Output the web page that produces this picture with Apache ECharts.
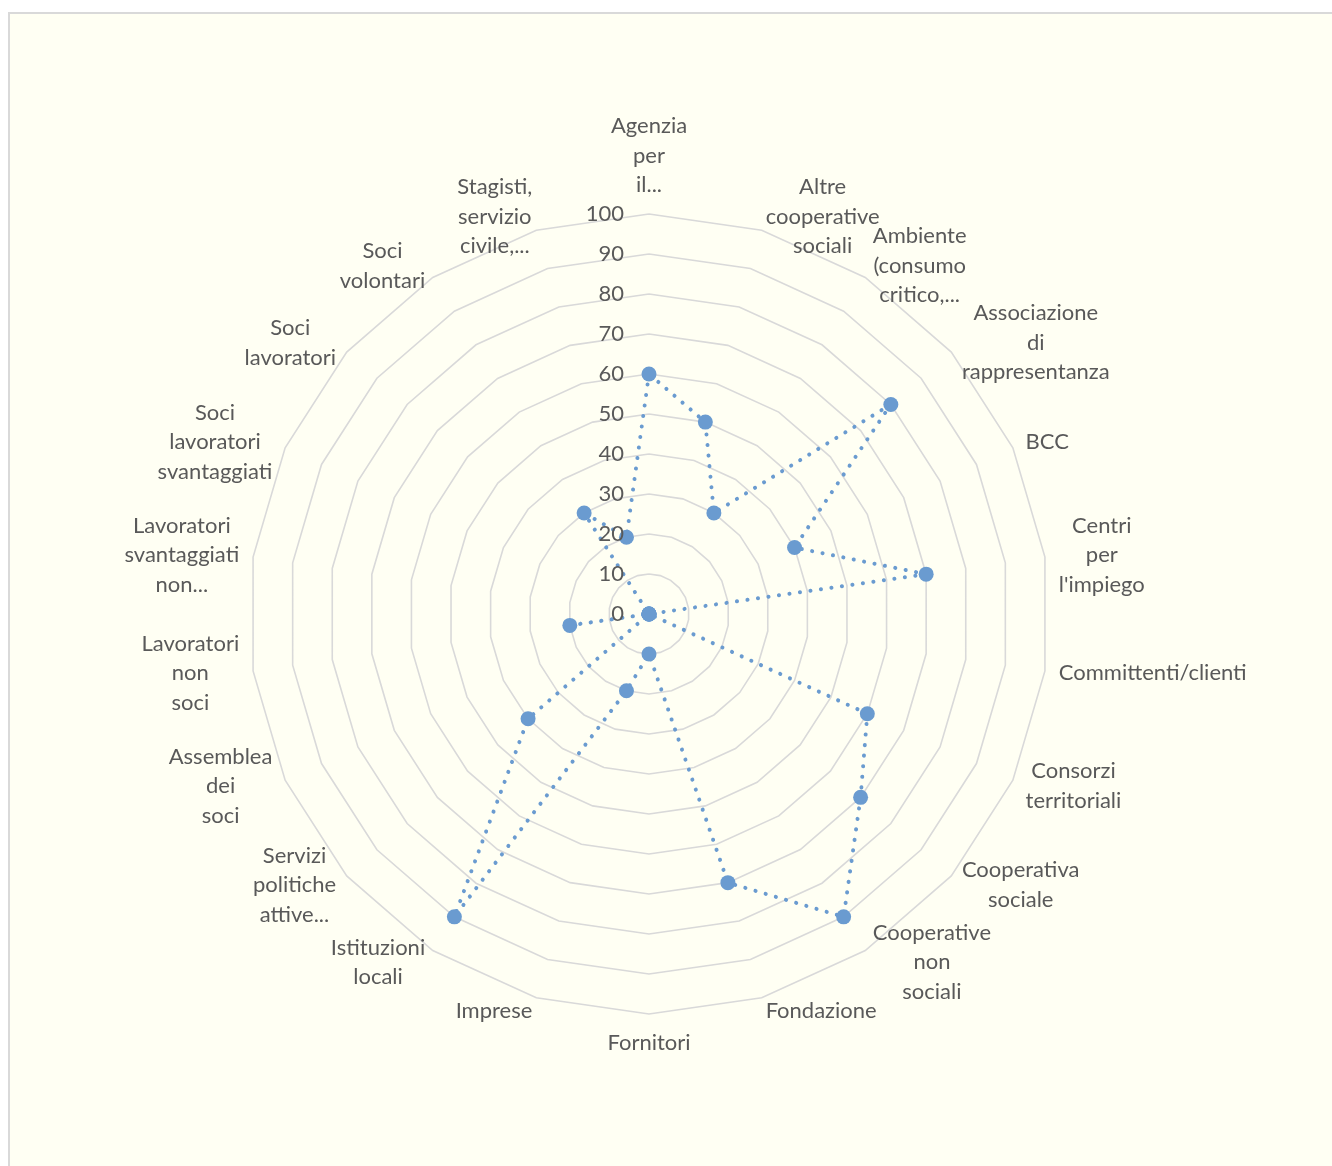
<!DOCTYPE html>
<html>
<head>
<meta charset="utf-8">
<script src="https://cdn.jsdelivr.net/npm/echarts@6/dist/echarts.min.js"></script>
<style>
  html, body { margin: 0; padding: 0; background: #ffffff; }
  #frame { position: absolute; left: 8px; top: 12px; width: 1400px; height: 1200px;
           border-left: 2px solid #D9D9D9; border-top: 2px solid #D9D9D9; background: #FFFFF3; }
  #chart { position: absolute; left: 0; top: 0; width: 1332px; height: 1166px; }
</style>
</head>
<body>
<div id="frame"></div>
<div id="chart"></div>
<script>
// Categories (clockwise from top), with the line breaks shown in the picture
const categories = [
  "Agenzia\nper\nil...",
  "Altre\ncooperative\nsociali",
  "Ambiente\n(consumo\ncritico,...",
  "Associazione\ndi\nrappresentanza",
  "BCC",
  "Centri\nper\nl'impiego",
  "Committenti/clienti",
  "Consorzi\nterritoriali",
  "Cooperativa\nsociale",
  "Cooperative\nnon\nsociali",
  "Fondazione",
  "Fornitori",
  "Imprese",
  "Istituzioni\nlocali",
  "Servizi\npolitiche\nattive...",
  "Assemblea\ndei\nsoci",
  "Lavoratori\nnon\nsoci",
  "Lavoratori\nsvantaggiati\nnon...",
  "Soci\nlavoratori\nsvantaggiati",
  "Soci\nlavoratori",
  "Soci\nvolontari",
  "Stagisti,\nservizio\ncivile,..."
];

// Series values (same order as categories)
const values = [60, 50, 30, 80, 40, 70, 0, 60, 70, 90, 70, 10, 20, 90, 40, 0, 20, 0, 0, 0, 30, 20];

// Radial scale / tick labels
const axisMin = 0;
const axisMax = 100;
const axisStep = 10;

const textColor = '#595959';
const fontFamily = 'Lato, "Open Sans", sans-serif';
const center = [649, 614];
const radius = 400;

// ECharts radar runs counter-clockwise; reorder so the categories run clockwise from the top
const order = [0].concat(categories.map((_, i) => i).slice(1).reverse());
const indicators = order.map(i => ({ name: categories[i], min: axisMin, max: axisMax }));
const seriesValues = order.map(i => values[i]);

const chart = echarts.init(document.getElementById('chart'));

chart.setOption({
  backgroundColor: 'transparent',
  animation: false,
  polar: { center: center, radius: radius },
  angleAxis: { type: 'value', min: 0, max: 360, startAngle: 90, show: false },
  radiusAxis: {
    type: 'value', min: axisMin, max: axisMax, interval: axisStep,
    axisLine: { show: false }, axisTick: { show: false }, splitLine: { show: false },
    axisLabel: { show: true, margin: 25, color: textColor, fontSize: 22, fontFamily: fontFamily },
    z: 10
  },
  radar: {
    center: center,
    radius: radius,
    startAngle: 90,
    shape: 'polygon',
    splitNumber: (axisMax - axisMin) / axisStep,
    indicator: indicators,
    axisName: {
      color: textColor,
      fontSize: 22,
      fontFamily: fontFamily,
      lineHeight: 29.5,
      formatter: function (name) {
        return name.split('\n').map(s => '{c|' + s + '}').join('\n');
      },
      rich: {
        c: { align: 'center', color: textColor, fontSize: 22, fontFamily: fontFamily, lineHeight: 29.5 }
      }
    },
    nameGap: 14,
    axisLine: { show: false },
    axisTick: { show: false },
    axisLabel: { show: false },
    splitArea: { show: false },
    splitLine: { lineStyle: { color: '#D9D9D9', width: 1.6 } }
  },
  series: [{
    type: 'radar',
    silent: true,
    symbol: 'circle',
    symbolSize: 15,
    itemStyle: { color: '#6A9BD0' },
    lineStyle: { color: '#6A9BD0', width: 4, type: [0.1, 10.5], cap: 'round' },
    data: [{ value: seriesValues }]
  }]
});
</script>
</body>
</html>
